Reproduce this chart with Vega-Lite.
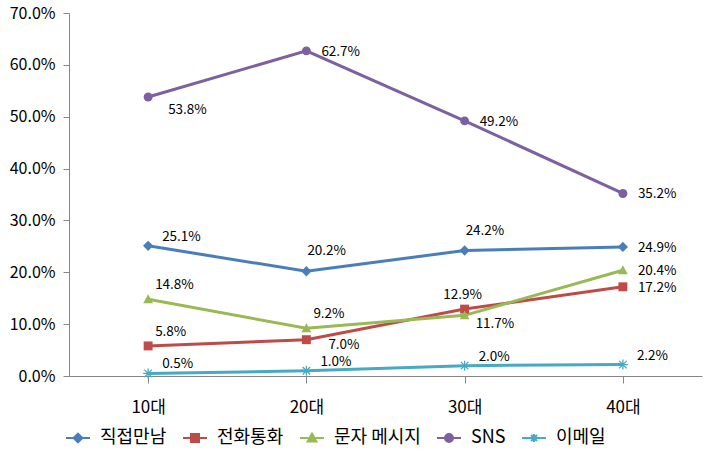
{
  "$schema": "https://vega.github.io/schema/vega-lite/v6.json",
  "width": 633,
  "height": 363,
  "padding": {"left": 9, "top": 5, "right": 5, "bottom": 5},
  "config": {
    "view": {"stroke": null},
    "font": "Noto Sans CJK KR",
    "axis": {"domainColor": "#868686", "tickColor": "#868686", "labelColor": "#000000", "grid": false, "labelFont": "Noto Sans CJK KR"},
    "legend": {"labelFont": "Noto Sans CJK KR"}
  },
  "data": {
    "values": [
      {"age": "10대", "series": "직접만남", "v": 0.251},
      {"age": "20대", "series": "직접만남", "v": 0.202},
      {"age": "30대", "series": "직접만남", "v": 0.242},
      {"age": "40대", "series": "직접만남", "v": 0.249},
      {"age": "10대", "series": "전화통화", "v": 0.058},
      {"age": "20대", "series": "전화통화", "v": 0.070},
      {"age": "30대", "series": "전화통화", "v": 0.129},
      {"age": "40대", "series": "전화통화", "v": 0.172},
      {"age": "10대", "series": "문자 메시지", "v": 0.148},
      {"age": "20대", "series": "문자 메시지", "v": 0.092},
      {"age": "30대", "series": "문자 메시지", "v": 0.117},
      {"age": "40대", "series": "문자 메시지", "v": 0.204},
      {"age": "10대", "series": "SNS", "v": 0.538},
      {"age": "20대", "series": "SNS", "v": 0.627},
      {"age": "30대", "series": "SNS", "v": 0.492},
      {"age": "40대", "series": "SNS", "v": 0.352},
      {"age": "10대", "series": "이메일", "v": 0.005},
      {"age": "20대", "series": "이메일", "v": 0.010},
      {"age": "30대", "series": "이메일", "v": 0.020},
      {"age": "40대", "series": "이메일", "v": 0.022}
    ]
  },
  "encoding": {
    "x": {
      "field": "age", "type": "nominal", "sort": ["10대", "20대", "30대", "40대"],
      "scale": {"paddingInner": 0, "paddingOuter": 0},
      "axis": {"title": null, "labelAngle": 0, "labelFontSize": 17, "bandPosition": 0, "tickSize": 7, "labelPadding": 16, "domainWidth": 1}
    },
    "y": {
      "field": "v", "type": "quantitative",
      "scale": {"domain": [0, 0.7], "nice": false},
      "axis": {"title": null, "values": [0, 0.1, 0.2, 0.3, 0.4, 0.5, 0.6, 0.7], "format": ".1%", "labelFontSize": 16, "tickSize": 6, "labelPadding": 8}
    },
    "color": {"field": "series", "type": "nominal",
      "scale": {"domain": ["직접만남", "전화통화", "문자 메시지", "SNS", "이메일"], "range": ["#4A7EBB", "#BE4B48", "#98B954", "#7D60A0", "#46AAC5"]},
      "legend": {
        "title": null, "orient": "bottom", "direction": "horizontal", "labelFontSize": 18, "symbolSize": 64,
        "symbolStrokeWidth": 2, "columnPadding": 12, "labelOffset": 13, "offset": 14,
        "encode": {
          "symbols": {"update": {
            "shape": {"signal": "datum.value === '직접만남' ? 'M-3,0H3M0,-1.1L1.1,0L0,1.1L-1.1,0Z' : datum.value === '전화통화' ? 'M-3,0H3M-1,-1H1V1H-1Z' : datum.value === '문자 메시지' ? 'M-3,0H3M0,-1.1L1.1,0.9H-1.1Z' : datum.value === 'SNS' ? 'M-3,0H3M1,0A1,1,0,1,1,-1,0A1,1,0,1,1,1,0Z' : 'M-3,0H3M0,-1V1M-0.75,-0.75L0.75,0.75M-0.75,0.75L0.75,-0.75'"},
            "stroke": {"scale": "color", "field": "value"},
            "fill": {"scale": "color", "field": "value"},
            "strokeWidth": {"value": 2}
          }}
        }
      }
    }
  },
  "layer": [
    {
      "mark": {"type": "line", "strokeWidth": 3}
    },
    {
      "transform": [{"filter": "datum.series !== '이메일'"}],
      "mark": {"type": "point", "filled": true, "opacity": 1, "size": 80},
      "encoding": {
        "shape": {"field": "series", "type": "nominal", "legend": null,
          "scale": {"domain": ["직접만남", "전화통화", "문자 메시지", "SNS"], "range": ["M0,-1.15L1.15,0L0,1.15L-1.15,0Z", "square", "M0,-1.1L1.1,0.9H-1.1Z", "circle"]}}
      }
    },
    {
      "transform": [{"filter": "datum.series === '이메일'"}],
      "mark": {"type": "point", "filled": false, "opacity": 1, "size": 100, "strokeWidth": 1.3, "shape": "M-1,0H1M0,-1V1M-0.75,-0.75L0.75,0.75M-0.75,0.75L0.75,-0.75"}
    },
    {
      "transform": [{"filter": "indexof(['직접만남|40대','문자 메시지|40대','전화통화|40대','SNS|40대','SNS|20대','SNS|30대'], datum.series + '|' + datum.age) >= 0"}],
      "mark": {"type": "text", "align": "left", "baseline": "middle", "dx": 15, "dy": 1, "fontSize": 13.5},
      "encoding": {"text": {"field": "v", "type": "quantitative", "format": ".1%"}, "color": {"value": "#000000"}}
    },
    {
      "transform": [{"filter": "indexof(['직접만남|10대','이메일|10대','이메일|20대','이메일|30대','이메일|40대'], datum.series + '|' + datum.age) >= 0"}],
      "mark": {"type": "text", "align": "left", "baseline": "middle", "dx": 14, "dy": -9, "fontSize": 13.5},
      "encoding": {"text": {"field": "v", "type": "quantitative", "format": ".1%"}, "color": {"value": "#000000"}}
    },
    {
      "transform": [{"filter": "indexof(['문자 메시지|10대','전화통화|10대','문자 메시지|20대'], datum.series + '|' + datum.age) >= 0"}],
      "mark": {"type": "text", "align": "left", "baseline": "middle", "dx": 7, "dy": -14, "fontSize": 13.5},
      "encoding": {"text": {"field": "v", "type": "quantitative", "format": ".1%"}, "color": {"value": "#000000"}}
    },
    {
      "transform": [{"filter": "indexof(['직접만남|20대','직접만남|30대'], datum.series + '|' + datum.age) >= 0"}],
      "mark": {"type": "text", "align": "left", "baseline": "middle", "dx": 1, "dy": -20, "fontSize": 13.5},
      "encoding": {"text": {"field": "v", "type": "quantitative", "format": ".1%"}, "color": {"value": "#000000"}}
    },
    {
      "transform": [{"filter": "datum.series === '전화통화' && datum.age === '30대'"}],
      "mark": {"type": "text", "align": "center", "baseline": "middle", "dx": -2, "dy": -14, "fontSize": 13.5},
      "encoding": {"text": {"field": "v", "type": "quantitative", "format": ".1%"}, "color": {"value": "#000000"}}
    },
    {
      "transform": [{"filter": "datum.series === 'SNS' && datum.age === '10대'"}],
      "mark": {"type": "text", "align": "left", "baseline": "middle", "dx": 20, "dy": 13, "fontSize": 13.5},
      "encoding": {"text": {"field": "v", "type": "quantitative", "format": ".1%"}, "color": {"value": "#000000"}}
    },
    {
      "transform": [{"filter": "datum.series === '전화통화' && datum.age === '20대'"}],
      "mark": {"type": "text", "align": "left", "baseline": "middle", "dx": 22, "dy": 5, "fontSize": 13.5},
      "encoding": {"text": {"field": "v", "type": "quantitative", "format": ".1%"}, "color": {"value": "#000000"}}
    },
    {
      "transform": [{"filter": "datum.series === '문자 메시지' && datum.age === '30대'"}],
      "mark": {"type": "text", "align": "left", "baseline": "middle", "dx": 11, "dy": 9, "fontSize": 13.5},
      "encoding": {"text": {"field": "v", "type": "quantitative", "format": ".1%"}, "color": {"value": "#000000"}}
    }
  ]
}
